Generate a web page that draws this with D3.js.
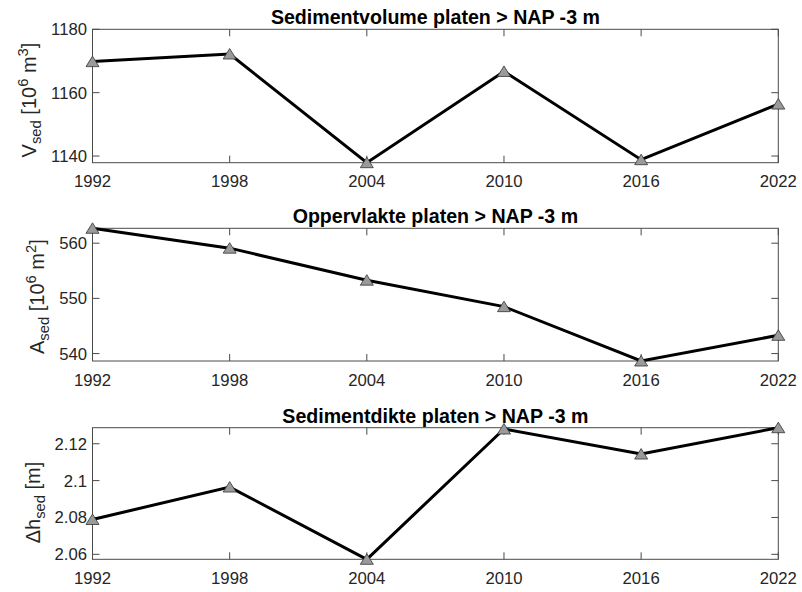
<!DOCTYPE html>
<html>
<head>
<meta charset="utf-8">
<script src="https://cdn.jsdelivr.net/npm/d3@7"></script>
<style>
  html, body { margin: 0; padding: 0; background: #fff; }
  svg { display: block; }
  text { font-family: "Liberation Sans", Arial, Helvetica, sans-serif; }
</style>
</head>
<body>
<svg id="chart" width="802" height="592"></svg>
<script>
// Survey years
const years = [1992, 1998, 2004, 2010, 2016, 2022];
const xTicks = [1992, 1998, 2004, 2010, 2016, 2022];

// Sediment volume of the flats above NAP -3 m [10^6 m^3]
const volume = [1169.8, 1172.2, 1137.9, 1166.7, 1138.85, 1156.4];
const volumeTicks = [1140, 1160, 1180];
const volumeTickLabels = ["1140", "1160", "1180"];

// Area of the flats above NAP -3 m [10^6 m^2]
const area = [562.7, 559.1, 553.3, 548.5, 538.65, 543.3];
const areaTicks = [540, 550, 560];
const areaTickLabels = ["540", "550", "560"];

// Mean sediment thickness [m]
const thickness = [2.0789, 2.0965, 2.0573, 2.1280, 2.1144, 2.1287];
const thicknessTicks = [2.06, 2.08, 2.10, 2.12];
const thicknessTickLabels = ["2.06", "2.08", "2.1", "2.12"];

const titles = [
  "Sedimentvolume platen > NAP -3 m",
  "Oppervlakte platen > NAP -3 m",
  "Sedimentdikte platen > NAP -3 m"
];

const svg = d3.select("#chart");
const left = 92.5, right = 778.3;
const tickLen = 7;
const axisColor = "#4a4a4a";
const textColor = "#262626";
const tickFont = 16.7;
const titleFont = 19.6;
const labelFont = 20;

const x = d3.scaleLinear().domain([1992, 2022]).range([left, right]);

const panels = [
  { values: volume, ticks: volumeTicks, labels: volumeTickLabels,
    domain: [1137.9, 1180], top: 29.3, bottom: 162.7, title: titles[0],
    ylabel: { main: "V", sub: "sed", rest: " [10", sup: "6", rest2: " m", sup2: "3", end: "]" }, labelShift: 4 },
  { values: area, ticks: areaTicks, labels: areaTickLabels,
    domain: [538.65, 562.7], top: 228.3, bottom: 361, title: titles[1],
    ylabel: { main: "A", sub: "sed", rest: " [10", sup: "6", rest2: " m", sup2: "2", end: "]" }, labelShift: 2 },
  { values: thickness, ticks: thicknessTicks, labels: thicknessTickLabels,
    domain: [2.0573, 2.1287], top: 427.7, bottom: 559.3, title: titles[2],
    ylabel: { main: "\u0394h", sub: "sed", rest: " [m]" }, labelShift: 9 }
];

panels.forEach(p => {
  const y = d3.scaleLinear().domain(p.domain).range([p.bottom, p.top]);
  const g = svg.append("g");

  // Box
  g.append("rect")
    .attr("x", left).attr("y", p.top)
    .attr("width", right - left).attr("height", p.bottom - p.top)
    .attr("fill", "none").attr("stroke", axisColor).attr("stroke-width", 1);

  // X ticks (inward on bottom and top)
  xTicks.forEach(t => {
    const xx = x(t);
    g.append("line").attr("x1", xx).attr("x2", xx)
      .attr("y1", p.bottom).attr("y2", p.bottom - tickLen)
      .attr("stroke", axisColor).attr("stroke-width", 1);
    g.append("line").attr("x1", xx).attr("x2", xx)
      .attr("y1", p.top).attr("y2", p.top + tickLen)
      .attr("stroke", axisColor).attr("stroke-width", 1);
    g.append("text").attr("x", xx).attr("y", p.bottom + 24.5)
      .attr("text-anchor", "middle").attr("fill", textColor)
      .attr("font-size", tickFont).text(t);
  });

  // Y ticks (inward on left and right)
  const tickTexts = [];
  p.ticks.forEach((t, i) => {
    const yy = y(t);
    g.append("line").attr("x1", left).attr("x2", left + tickLen)
      .attr("y1", yy).attr("y2", yy)
      .attr("stroke", axisColor).attr("stroke-width", 1);
    g.append("line").attr("x1", right).attr("x2", right - tickLen)
      .attr("y1", yy).attr("y2", yy)
      .attr("stroke", axisColor).attr("stroke-width", 1);
    const tt = g.append("text").attr("x", left - 5.5).attr("y", yy)
      .attr("dy", "0.36em")
      .attr("text-anchor", "end").attr("fill", textColor)
      .attr("font-size", tickFont).text(p.labels[i]);
    tickTexts.push(tt);
  });

  // Title
  g.append("text").attr("x", (left + right) / 2).attr("y", p.top - 5)
    .attr("text-anchor", "middle").attr("fill", "#000")
    .attr("font-size", titleFont).attr("font-weight", "bold")
    .text(p.title);

  // Data line
  const line = d3.line().x((d, i) => x(years[i])).y(d => y(d));
  g.append("path").datum(p.values)
    .attr("d", line).attr("fill", "none")
    .attr("stroke", "#000").attr("stroke-width", 3)
    .attr("stroke-linejoin", "miter");

  // Triangle markers
  g.selectAll("path.marker").data(p.values).enter().append("path")
    .attr("class", "marker")
    .attr("transform", (d, i) => `translate(${x(years[i])},${y(d)})`)
    .attr("d", "M0,-5.5L6.5,5L-6.5,5Z")
    .attr("fill", "#9a9a9a").attr("stroke", "#333").attr("stroke-width", 0.8);

  // Y label, rotated, built from tspans for sub- and superscripts
  const minX = d3.min(tickTexts, t => t.node().getBBox().x);
  const cy = (p.top + p.bottom) / 2 + p.labelShift;
  const lab = g.append("text")
    .attr("fill", textColor)
    .attr("font-size", labelFont);
  const L = p.ylabel;
  const small = labelFont * 0.74;
  lab.append("tspan").text(L.main);
  lab.append("tspan").attr("font-size", small).attr("dy", 5).text(L.sub);
  lab.append("tspan").attr("dy", -5).text(L.rest);
  if (L.sup) {
    lab.append("tspan").attr("font-size", small).attr("dy", -8).text(L.sup);
    lab.append("tspan").attr("dy", 8).text(L.rest2);
    lab.append("tspan").attr("font-size", small).attr("dy", -8).text(L.sup2);
    lab.append("tspan").attr("dy", 8).text(L.end);
  }
  // Unrotated bbox: width runs along the axis, y-extent becomes horizontal after rotation
  const bb = lab.node().getBBox();
  const cxLocal = bb.x + bb.width / 2;
  const bottomLocal = bb.y + bb.height;   // maps to rightmost horizontal point
  const tx = minX - 7 - bottomLocal;
  // rotate(-90): local (u, v) -> (v, -u); centre the text along the axis on cy
  lab.attr("transform", `translate(${tx},${cy + cxLocal}) rotate(-90)`);
});
</script>
</body>
</html>
